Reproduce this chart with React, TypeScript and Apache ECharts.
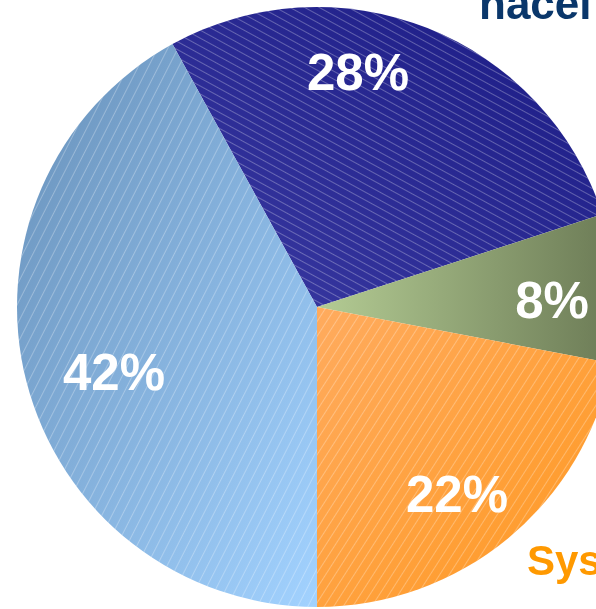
import React, { useEffect, useRef } from "react";
import * as echarts from "echarts";

const categories = ["Navy", "Green", "Orange", "LightBlue"];
const values = [28, 8, 22, 42];
const labelTexts = ["28%", "8%", "22%", "42%"];
const labelPositions: [number, number][] = [
  [358, 72],
  [552, 300],
  [457, 494],
  [114, 372],
];

const grad = (x: number, y: number, x2: number, y2: number, c1: string, c2: string) => ({
  type: "linear",
  x,
  y,
  x2,
  y2,
  colorStops: [
    { offset: 0, color: c1 },
    { offset: 1, color: c2 },
  ],
  global: false,
});

const hatch = (rotation: number, gap: number) => ({
  symbol: "rect",
  symbolSize: 1,
  color: "rgba(255,255,255,0.28)",
  dashArrayX: [1, 0],
  dashArrayY: [1, gap],
  rotation,
});

const styles = [
  { color: grad(0, 1, 1, 0, "#3a3aa2", "#1a1a84"), decal: hatch(0.5, 6) },
  { color: grad(0, 0, 1, 0, "#b4cc94", "#6b7a55"), decal: { symbol: "none" } },
  { color: grad(0, 0, 1, 1, "#ffab5e", "#ff981f"), decal: hatch(-1.0, 7) },
  { color: grad(0, 0, 1, 1, "#6790b9", "#a2d2ff"), decal: hatch(-1.1, 8) },
];

export default function App() {
  const ref = useRef<HTMLDivElement>(null);
  useEffect(() => {
    if (!ref.current) return;
    const chart = echarts.init(ref.current, undefined, { renderer: "svg" });
    chart.setOption({
      animation: false,
      series: [
        {
          type: "pie",
          center: [317, 307],
          radius: 300,
          startAngle: 118.8,
          clockwise: true,
          silent: true,
          data: categories.map((name, i) => ({
            name,
            value: values[i],
            itemStyle: { color: styles[i].color, decal: styles[i].decal, borderWidth: 0 },
            label: { formatter: labelTexts[i] },
          })),
          label: {
            show: true,
            position: "inside",
            color: "#ffffff",
            fontFamily: "'Liberation Sans', Arial, sans-serif",
            fontWeight: "bold",
            fontSize: 51,
          },
          labelLine: { show: false },
          labelLayout: (params: any) => ({
            x: labelPositions[params.dataIndex][0],
            y: labelPositions[params.dataIndex][1],
            align: "center",
            verticalAlign: "middle",
          }),
        },
      ],
      graphic: [
        {
          type: "text",
          x: 479,
          y: 3,
          style: {
            text: "nacel",
            fill: "#0a376b",
            font: "bold 44px 'Liberation Sans', Arial, sans-serif",
            verticalAlign: "middle",
          },
        },
        {
          type: "text",
          x: 527,
          y: 560,
          style: {
            text: "Sys",
            fill: "#ff9900",
            font: "bold 42px 'Liberation Sans', Arial, sans-serif",
            verticalAlign: "middle",
          },
        },
      ],
    });
    return () => chart.dispose();
  }, []);
  return (
    <div
      ref={ref}
      style={{ position: "fixed", left: 0, top: 0, width: 596, height: 609 }}
    />
  );
}
